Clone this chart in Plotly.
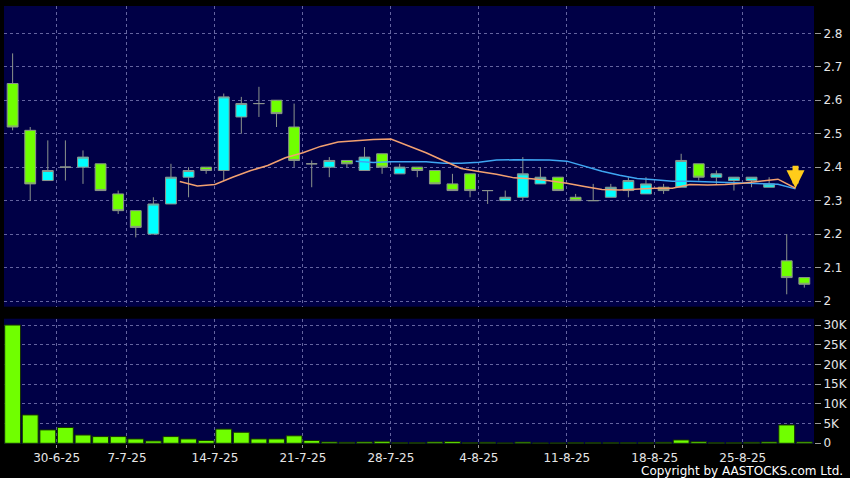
import plotly.graph_objects as go

# ---------------- data ----------------
dates = [
    "2025-06-25", "2025-06-26", "2025-06-27", "2025-06-30",
    "2025-07-02", "2025-07-03", "2025-07-04",
    "2025-07-07", "2025-07-08", "2025-07-09", "2025-07-10", "2025-07-11",
    "2025-07-14", "2025-07-15", "2025-07-16", "2025-07-17", "2025-07-18",
    "2025-07-21", "2025-07-22", "2025-07-23", "2025-07-24", "2025-07-25",
    "2025-07-28", "2025-07-29", "2025-07-30", "2025-07-31", "2025-08-01",
    "2025-08-04", "2025-08-05", "2025-08-06", "2025-08-07", "2025-08-08",
    "2025-08-11", "2025-08-12", "2025-08-13", "2025-08-14", "2025-08-15",
    "2025-08-18", "2025-08-19", "2025-08-20", "2025-08-21", "2025-08-22",
    "2025-08-25", "2025-08-26", "2025-08-27", "2025-08-28",
]
opens = [2.65, 2.51, 2.36, 2.40, 2.40, 2.41, 2.32, 2.27, 2.20, 2.29,
         2.37, 2.40, 2.39, 2.55, 2.59, 2.60, 2.52, 2.41, 2.40, 2.42,
         2.39, 2.44, 2.38, 2.40, 2.39, 2.35, 2.38, 2.33, 2.30, 2.31,
         2.35, 2.37, 2.31, 2.30, 2.31, 2.33, 2.32, 2.34, 2.34, 2.41,
         2.37, 2.36, 2.36, 2.34, 2.12, 2.07]
highs = [2.74, 2.52, 2.48, 2.48, 2.45, 2.41, 2.33, 2.27, 2.31, 2.41,
         2.40, 2.40, 2.62, 2.61, 2.64, 2.60, 2.59, 2.42, 2.43, 2.42,
         2.46, 2.44, 2.41, 2.40, 2.39, 2.38, 2.38, 2.33, 2.33, 2.43,
         2.40, 2.37, 2.32, 2.35, 2.35, 2.37, 2.37, 2.35, 2.44, 2.41,
         2.39, 2.37, 2.37, 2.37, 2.20, 2.07]
lows = [2.51, 2.30, 2.36, 2.36, 2.35, 2.33, 2.26, 2.19, 2.20, 2.29,
        2.31, 2.38, 2.36, 2.50, 2.55, 2.52, 2.40, 2.34, 2.37, 2.40,
        2.39, 2.38, 2.38, 2.37, 2.35, 2.33, 2.31, 2.29, 2.30, 2.30,
        2.35, 2.33, 2.30, 2.30, 2.31, 2.31, 2.32, 2.32, 2.34, 2.36,
        2.35, 2.33, 2.34, 2.34, 2.02, 2.04]
closes = [2.52, 2.35, 2.39, 2.40, 2.43, 2.33, 2.27, 2.22, 2.29, 2.37,
          2.39, 2.39, 2.61, 2.59, 2.59, 2.56, 2.42, 2.41, 2.42, 2.41,
          2.43, 2.40, 2.40, 2.39, 2.35, 2.33, 2.33, 2.33, 2.31, 2.38,
          2.37, 2.33, 2.30, 2.30, 2.34, 2.36, 2.35, 2.33, 2.42, 2.37,
          2.38, 2.37, 2.37, 2.35, 2.07, 2.05]
volumes = [30000, 7200, 3400, 4000, 2100, 1700, 1700, 1100, 600, 1700,
           1100, 700, 3600, 2800, 1100, 1100, 1900, 700, 350, 250,
           350, 500, 150, 150, 350, 450, 150, 250, 100, 300,
           100, 100, 150, 150, 150, 150, 150, 250, 850, 400,
           150, 150, 250, 350, 4650, 350]

# moving averages (10-day from 10th session, 20-day from 20th)
ma10_start = 9
ma10 = [2.357, 2.344, 2.348, 2.370, 2.389, 2.405, 2.428, 2.443, 2.462, 2.475,
        2.479, 2.483, 2.484, 2.463, 2.443, 2.419, 2.396, 2.387, 2.379, 2.368,
        2.365, 2.359, 2.352, 2.342, 2.333, 2.332, 2.335, 2.337, 2.337, 2.348,
        2.347, 2.348, 2.352, 2.359, 2.364, 2.337]
ma20_start = 19
ma20 = [2.418, 2.414, 2.416, 2.417, 2.416, 2.412, 2.412, 2.415, 2.421, 2.422,
        2.422, 2.421, 2.418, 2.403, 2.388, 2.376, 2.366, 2.362, 2.358, 2.358,
        2.356, 2.354, 2.352, 2.351, 2.349, 2.335]

week_dates = ["2025-06-30", "2025-07-07", "2025-07-14", "2025-07-21", "2025-07-28",
              "2025-08-04", "2025-08-11", "2025-08-18", "2025-08-25"]
week_labels = ["30-6-25", "7-7-25", "14-7-25", "21-7-25", "28-7-25",
               "4-8-25", "11-8-25", "18-8-25", "25-8-25"]
price_ticks = [2.0, 2.1, 2.2, 2.3, 2.4, 2.5, 2.6, 2.7, 2.8]
price_tick_labels = ["2", "2.1", "2.2", "2.3", "2.4", "2.5", "2.6", "2.7", "2.8"]
vol_ticks = [0, 5000, 10000, 15000, 20000, 25000, 30000]
vol_tick_labels = ["0", "5K", "10K", "15K", "20K", "25K", "30K"]

# ---------------- styling ----------------
NAVY = "#000046"
LIME = "#70ff00"
CYAN = "#00ffff"
EDGE = "#8c948c"
GRID = "#6464a0"
TXT = "#e6e6e6"
FONT = "DejaVu Sans"

idx = list(range(len(dates)))
week_pos = [dates.index(d) - 0.5 for d in week_dates]
ma10_x = [i + 0.5 for i in range(ma10_start, ma10_start + len(ma10))]
ma20_x = [i + 0.5 for i in range(ma20_start, ma20_start + len(ma20))]

fig = go.Figure()

fig.add_trace(go.Candlestick(
    x=idx, open=opens, high=highs, low=lows, close=closes,
    increasing=dict(line=dict(color=EDGE, width=1), fillcolor=CYAN),
    decreasing=dict(line=dict(color=EDGE, width=1), fillcolor=LIME),
    whiskerwidth=0, xaxis="x", yaxis="y", showlegend=False, hoverinfo="skip",
))
fig.add_trace(go.Scatter(
    x=ma20_x, y=ma20, mode="lines", line=dict(color="#3ea6f2", width=1.5),
    xaxis="x", yaxis="y", showlegend=False, hoverinfo="skip",
))
fig.add_trace(go.Scatter(
    x=ma10_x, y=ma10, mode="lines", line=dict(color="#f2a070", width=1.5),
    xaxis="x", yaxis="y", showlegend=False, hoverinfo="skip",
))
fig.add_trace(go.Bar(
    x=idx, y=volumes, width=0.9,
    marker=dict(color=LIME, line=dict(color="#163300", width=1)),
    xaxis="x2", yaxis="y2", showlegend=False, hoverinfo="skip",
))

xrange = [-0.49, len(dates) - 0.45]
common_x = dict(
    range=xrange, showgrid=True, gridcolor=GRID, griddash="3px,3px", gridwidth=1,
    tickmode="array", tickvals=week_pos, zeroline=False, showline=False,
)
common_y = dict(
    side="right", showgrid=True, gridcolor=GRID, griddash="3px,3px", gridwidth=1,
    zeroline=False, showline=False, ticks="outside", ticklen=6, tickcolor="#9a9a9a",
    tickfont=dict(family=FONT, size=12, color=TXT), fixedrange=True,
)

fig.update_layout(
    width=850, height=478,
    margin=dict(l=4, r=36, t=6, b=34, autoexpand=False),
    paper_bgcolor="#000000", plot_bgcolor=NAVY,
    boxgap=0.12,
    bargap=0.1,
    hovermode=False,
    xaxis=dict(common_x, domain=[0, 1], anchor="y", showticklabels=False,
               ticks="", rangeslider=dict(visible=False)),
    xaxis2=dict(common_x, domain=[0, 1], anchor="y2", matches="x",
                ticktext=week_labels, ticks="outside", ticklen=3, tickcolor="#9a9a9a",
                tickfont=dict(family=FONT, size=12, color=TXT)),
    yaxis=dict(common_y, domain=[0.3135, 1.0], anchor="x", range=[1.983, 2.8816],
               tickmode="array", tickvals=price_ticks, ticktext=price_tick_labels),
    yaxis2=dict(common_y, domain=[0.0, 0.286], anchor="x2", range=[-180, 31600],
                tickmode="array", tickvals=vol_ticks, ticktext=vol_tick_labels),
    annotations=[
        dict(x=ma10_x[-1], y=ma10[-1], xref="x", yref="y", text="", showarrow=True,
             ax=0, ay=-24, arrowcolor="#ffcc1a", arrowwidth=6, arrowhead=2,
             arrowsize=0.6, standoff=0),
        dict(x=1.038, y=-0.062, xref="paper", yref="paper",
             text="Copyright by AASTOCKS.com Ltd.", showarrow=False,
             xanchor="right", yanchor="middle",
             font=dict(family=FONT, size=12, color="#ffffff")),
    ],
)

fig.write_html(
    "out.html",
    config={"displayModeBar": False, "staticPlot": True},
    post_script="document.body.style.margin='0';document.body.style.overflow='hidden';",
)
